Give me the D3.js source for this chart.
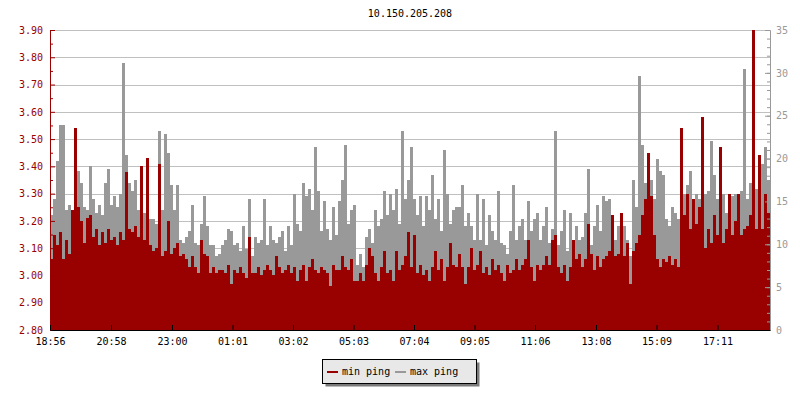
<!DOCTYPE html>
<html lang="en">
<head>
    <meta charset="UTF-8">
    <title>10.150.205.208</title>
    <script src="https://cdnjs.cloudflare.com/ajax/libs/d3/7.8.5/d3.min.js"></script>
    <style>
        body { margin: 0; background: #fff; }
        text { font-family: "DejaVu Sans Mono", monospace; font-size: 10px; }
    </style>
</head>
<body>
<div id="chart"></div>
<script>
    var title = "10.150.205.208";
    var stepMinutes = 6;   // one sample per 6 minutes, 24h window

    // min ping (left axis)
    var minPing = [
        3.06,3.15,3.11,3.16,3.06,3.13,3.08,3.24,3.54,3.25,3.20,3.12,3.21,3.22,3.14,3.17,3.11,3.16,3.12,3.17,
        3.13,3.14,3.11,3.16,3.13,3.38,3.17,3.16,3.18,3.14,3.40,3.13,3.43,3.11,
        3.09,3.10,3.41,3.07,3.09,3.20,3.08,3.10,3.12,3.07,3.08,3.06,3.03,3.07,3.03,3.01,3.13,3.08,3.07,3.01,
        3.03,3.01,3.02,3.02,3.01,3.04,2.97,3.02,3.01,3.03,3.01,2.99,3.14,3.01,
        3.01,3.03,3.00,3.02,3.04,3.02,3.00,3.07,3.03,3.01,3.02,3.04,3.01,3.03,2.98,3.02,3.04,2.98,3.03,3.06,
        3.02,3.01,3.03,3.02,3.01,2.96,3.04,3.02,3.02,3.07,3.03,3.02,3.06,2.98,
        2.98,3.01,2.98,3.04,3.10,3.07,3.01,2.98,3.03,3.09,3.01,3.02,2.98,3.09,3.02,3.04,3.07,3.16,3.03,3.15,
        3.01,3.04,3.00,3.02,2.98,3.03,3.09,3.02,3.06,2.98,3.03,3.12,3.04,3.03,
        3.08,3.03,2.97,3.03,3.10,3.02,3.04,3.09,3.01,3.03,3.00,3.06,3.02,3.04,3.01,2.98,3.04,3.01,3.02,3.06,
        3.02,3.04,3.06,3.13,3.03,2.98,3.04,3.02,3.04,3.07,3.04,3.13,3.15,3.03,
        3.01,3.04,2.98,3.03,3.13,3.06,3.08,3.03,3.06,3.19,3.08,3.02,3.07,3.03,3.06,3.07,3.09,3.22,3.07,3.08,
        3.23,3.07,3.12,2.97,3.09,3.12,3.15,3.22,3.28,3.45,3.29,3.15,3.06,3.03,
        3.06,3.05,3.07,3.04,3.06,3.03,3.54,3.22,3.30,3.17,3.28,3.19,3.25,3.58,3.10,3.17,3.12,3.22,3.15,3.47,
        3.12,3.17,3.30,3.15,3.20,3.30,3.15,3.17,3.18,3.22,3.90,3.17,3.44,3.17,3.30,3.23
    ];

    // max ping (right axis)
    var maxPing = [
        13.4,15.3,19.7,23.9,23.9,14.0,14.6,12.4,15.3,18.5,17.2,14.3,14.0,19.1,15.3,13.7,14.6,13.4,17.2,18.8,
        14.6,15.6,14.3,15.9,31.2,20.4,17.2,16.2,17.5,14.0,15.3,13.7,17.5,13.0,
        13.0,12.4,23.2,14.0,22.9,20.7,16.9,14.0,16.9,10.5,10.2,10.8,11.5,14.6,10.2,9.9,12.4,15.6,12.1,9.9,
        9.9,8.6,8.9,9.9,10.5,11.8,11.5,9.9,10.2,9.2,12.1,9.5,15.3,8.6,
        10.8,10.2,10.5,15.3,9.9,12.1,10.5,10.2,10.8,11.5,9.2,12.1,9.9,15.9,12.4,11.5,17.2,15.6,16.5,14.0,
        21.3,16.2,11.5,15.0,11.8,10.5,14.3,11.1,15.0,17.5,21.6,12.4,14.0,14.6,
        7.6,8.9,7.3,10.8,11.8,10.2,14.0,12.1,13.0,16.2,13.4,15.9,14.0,16.5,12.4,23.2,15.3,17.5,21.3,15.3,
        13.4,15.6,12.1,15.6,14.0,18.1,13.0,15.3,11.5,21.0,15.9,12.4,14.0,14.3,
        14.3,16.9,12.1,13.7,12.1,10.5,15.9,10.5,15.3,9.9,13.4,11.5,10.5,16.2,10.2,9.9,8.9,11.5,16.9,10.5,
        12.1,13.0,10.5,15.0,11.5,13.0,13.7,10.5,12.1,14.3,10.2,11.8,23.2,9.9,
        11.5,14.0,9.2,13.7,10.2,12.1,10.5,10.8,13.7,18.8,9.9,12.1,14.6,11.5,15.6,15.0,15.3,11.5,10.5,12.1,
        10.8,12.1,10.5,8.6,17.5,14.3,29.6,21.6,17.2,15.6,17.5,15.3,20.0,18.5,
        18.1,13.0,12.1,14.3,13.7,13.0,16.5,15.9,16.9,18.5,15.3,15.9,15.3,16.9,15.9,16.2,22.0,18.1,15.3,13.7,
        15.9,13.7,15.9,15.6,15.9,14.3,16.2,30.5,15.3,17.2,15.3,16.5,20.0,19.4,21.3,17.5
    ];

    var timeLabels = ["18:56","20:58","23:00","01:01","03:02","05:03","07:04","09:05","11:06","13:08","15:09","17:11"];
    var leftTicks = [2.80,2.90,3.00,3.10,3.20,3.30,3.40,3.50,3.60,3.70,3.80,3.90];
    var rightTicks = [0,5,10,15,20,25,30,35];
    var seriesNames = ["min ping", "max ping"];

    var red = "#990000", grey = "#999999";
    var width = 800, height = 400;
    var margin = {top: 30, right: 30, bottom: 70, left: 50};
    var plotW = width - margin.left - margin.right,
        plotH = height - margin.top - margin.bottom;

    // minutes since the first label
    function minutesFrom(label) {
        var p = label.split(":"), q = timeLabels[0].split(":");
        var m = (+p[0] * 60 + +p[1]) - (+q[0] * 60 + +q[1]);
        return m < 0 ? m + 1440 : m;
    }

    var data = minPing.map(function (d, i) {
        return {t: i * stepMinutes, min: d, max: maxPing[i]};
    });
    // close the last step at the end of the window
    data.push({t: 1440, min: minPing[minPing.length - 1], max: maxPing[maxPing.length - 1]});

    var x = d3.scaleLinear().domain([0, 1440]).range([0, plotW]);
    var yL = d3.scaleLinear().domain([2.80, 3.90]).range([plotH, 0]);
    var yR = d3.scaleLinear().domain([0, 35]).range([plotH, 0]);

    var svg = d3.select("#chart").append("svg")
        .attr("width", width)
        .attr("height", height);

    svg.append("text")
        .attr("x", margin.left + plotW / 2)
        .attr("y", 17)
        .attr("text-anchor", "middle")
        .attr("fill", "#000")
        .text(title);

    var g = svg.append("g")
        .attr("transform", "translate(" + margin.left + "," + margin.top + ")");

    // horizontal grid
    g.append("g").selectAll("line")
        .data(leftTicks.slice(1))
        .enter().append("line")
        .attr("x1", 0).attr("x2", plotW)
        .attr("y1", function (d) { return Math.round(yL(d)) + 0.5; })
        .attr("y2", function (d) { return Math.round(yL(d)) + 0.5; })
        .attr("stroke", "#c0c0c0")
        .attr("stroke-width", 1);

    // max ping: dense trace, drawn as a filled step so it reads like the original
    var maxArea = d3.area()
        .curve(d3.curveStepAfter)
        .x(function (d) { return x(d.t); })
        .y0(plotH)
        .y1(function (d) { return yR(d.max); });

    g.append("path")
        .datum(data)
        .attr("d", maxArea)
        .attr("fill", grey)
        .attr("shape-rendering", "crispEdges");

    // min ping as a stepped area
    var minArea = d3.area()
        .curve(d3.curveStepAfter)
        .x(function (d) { return x(d.t); })
        .y0(plotH)
        .y1(function (d) { return yL(d.min); });

    g.append("path")
        .datum(data)
        .attr("d", minArea)
        .attr("fill", red)
        .attr("shape-rendering", "crispEdges");

    // left axis (red), ticks pointing in
    var leftMinor = g.append("g")
        .call(d3.axisLeft(yL).tickValues(d3.range(2.85, 3.9, 0.1)).tickFormat("").tickSizeInner(-3).tickSizeOuter(0));
    var leftAxis = g.append("g")
        .call(d3.axisLeft(yL).tickValues(leftTicks).tickFormat(d3.format(".2f")).tickSizeInner(-5).tickSizeOuter(0).tickPadding(7));
    [leftMinor, leftAxis].forEach(function (a) {
        a.selectAll("path, line").attr("stroke", red);
        a.selectAll("text").attr("fill", red).style("font-size", "10px").style("font-family", null);
    });

    // right axis (grey)
    var rightMinor = g.append("g")
        .attr("transform", "translate(" + plotW + ",0)")
        .call(d3.axisRight(yR).ticks(35).tickFormat("").tickSizeInner(-3).tickSizeOuter(0));
    var rightAxis = g.append("g")
        .attr("transform", "translate(" + plotW + ",0)")
        .call(d3.axisRight(yR).tickValues(rightTicks).tickSizeInner(-5).tickSizeOuter(0).tickPadding(6));
    [rightMinor, rightAxis].forEach(function (a) {
        a.selectAll("path, line").attr("stroke", grey);
        a.selectAll("text").attr("fill", grey).style("font-size", "10px").style("font-family", null);
    });

    // time axis
    var xAxis = g.append("g")
        .attr("transform", "translate(0," + plotH + ")")
        .call(d3.axisBottom(x)
            .tickValues(timeLabels.map(minutesFrom))
            .tickFormat(function (d, i) { return timeLabels[i]; })
            .tickSizeInner(-5).tickSizeOuter(0).tickPadding(8));
    xAxis.selectAll("path, line").attr("stroke", "#000");
    xAxis.selectAll("text").attr("fill", "#000").style("font-size", "10px").style("font-family", null);

    // legend
    var lg = svg.append("g").attr("transform", "translate(322,359)");
    lg.append("rect")
        .attr("x", 3.5).attr("y", 3.5)
        .attr("width", 154).attr("height", 24)
        .attr("fill", "#7a7a7a");
    lg.append("rect")
        .attr("x", 0.5).attr("y", 0.5)
        .attr("width", 154).attr("height", 24)
        .attr("fill", "#e8e8e8")
        .attr("stroke", "#000");

    var items = [{name: seriesNames[0], color: red, x: 5}, {name: seriesNames[1], color: grey, x: 73}];
    items.forEach(function (it) {
        lg.append("line")
            .attr("x1", it.x).attr("x2", it.x + 11)
            .attr("y1", 13).attr("y2", 13)
            .attr("stroke", it.color)
            .attr("stroke-width", 2);
        lg.append("text")
            .attr("x", it.x + 15)
            .attr("y", 16)
            .attr("fill", "#000")
            .text(it.name);
    });
</script>
</body>
</html>
